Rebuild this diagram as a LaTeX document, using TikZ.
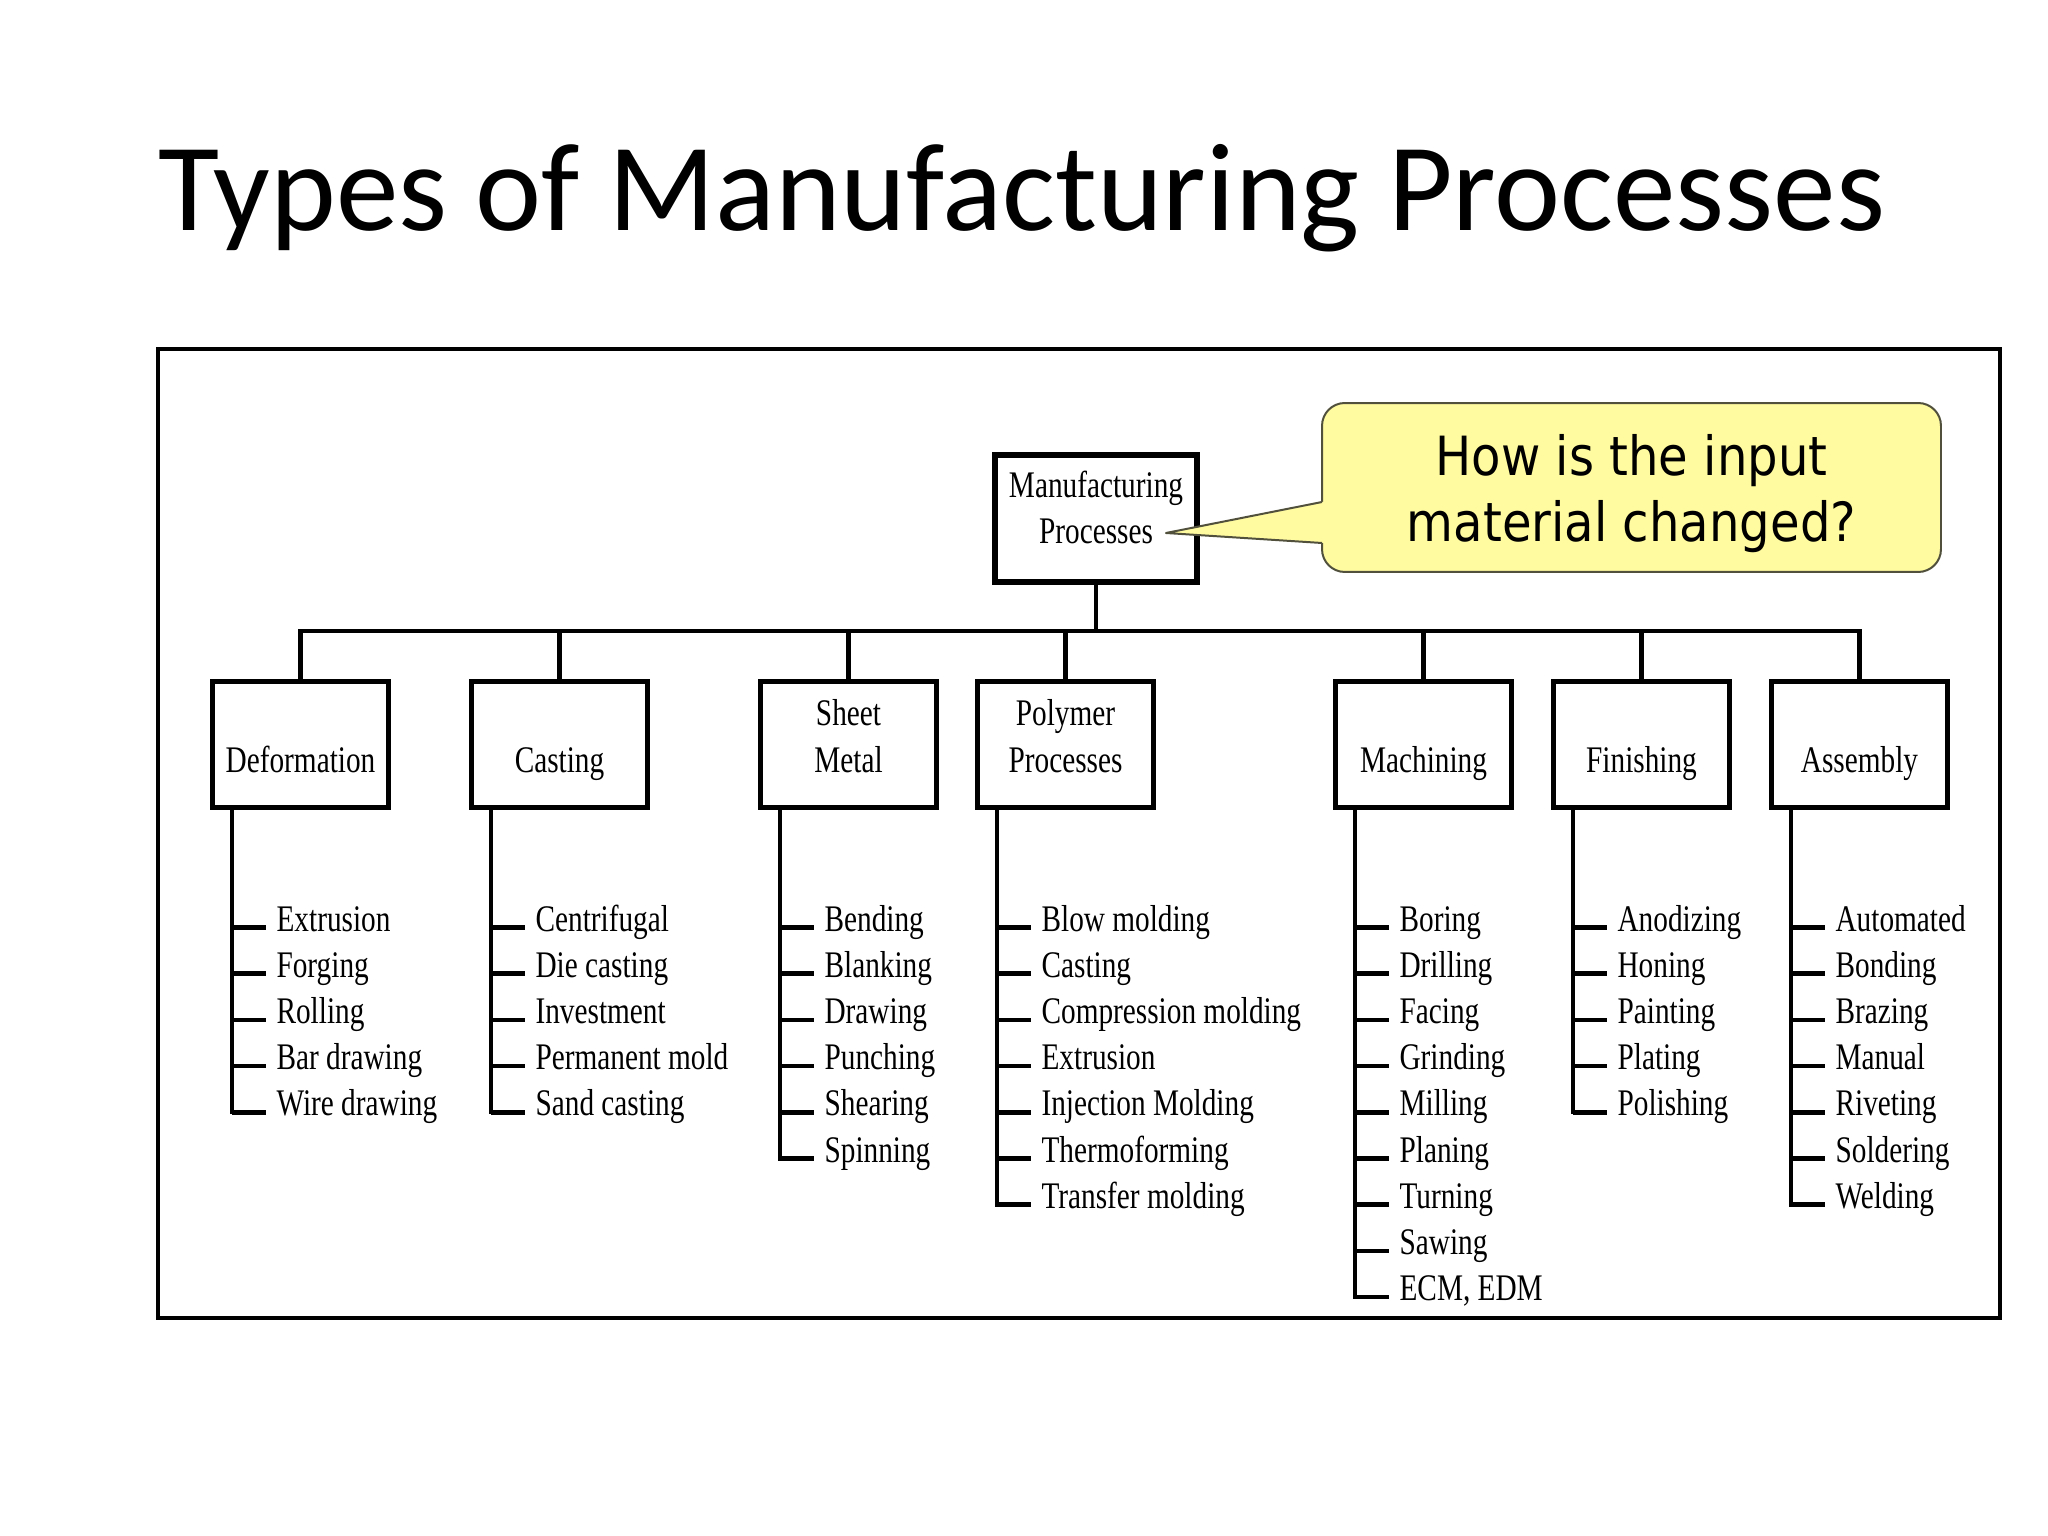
\documentclass[tikz,border=0pt]{standalone}
\usepackage{fontspec}
\usetikzlibrary{calc}
\newfontfamily\cond{Liberation Serif}[FakeStretch=0.78]
\newfontfamily\titlefont{Carlito}
\newfontfamily\callfont{DejaVu Sans}[FakeStretch=0.89]
\definecolor{callyellow}{RGB}{255,251,160}
\definecolor{callborder}{RGB}{80,80,60}
\tikzset{
  conn/.style={line width=1.45pt},
  tickline/.style={line width=1.6pt},
  catbox/.style={draw=black, line width=1.8pt, fill=white, minimum width=61.9pt, minimum height=44.3pt, inner sep=0pt},
  mainbox/.style={draw=black, line width=2.1pt, fill=white, minimum width=71pt, minimum height=44.65pt, inner sep=0pt},
  itemtext/.style={anchor=base west, inner sep=0pt, font=\cond\fontsize{13.2}{16.3}\selectfont},
  cattext/.style={anchor=base, inner sep=0pt, align=center, font=\cond\fontsize{13.2}{16.4}\selectfont},
}
\newcommand\proclist[4]{%
  \foreach \t [count=\i from 0] in {#4} {
    \node[itemtext] (#1-\i) at (#2+44, 931+46.2*\i) {\t};
    \draw[tickline] (#2, 927.5+46.2*\i) -- ($(#1-\i.base west)+(-10,-3.5)$);
  }
  \draw[conn] (#2,810) |- ($(#1-#3.base west)+(-10,-3.5)$);
}
\begin{document}
\begin{tikzpicture}[x=0.3515625pt, y=-0.3515625pt]
\useasboundingbox (0,0) rectangle (2048,1536);
\fill[white] (0,0) rectangle (2048,1536);

% title
\node[anchor=base west, inner sep=0pt, font=\titlefont\fontsize{44}{53}\selectfont] (title) at (158,231) {Types of Manufacturing Processes};

% outer frame
\draw[line width=1.6pt] (158,349) rectangle (2000,1318);

% main box and category boxes
\coordinate (busL) at (300.5,631);
\node[mainbox] (mp) at (1096,518.5) {};
\node[cattext] (mp-t) at (1096,544) {Manufacturing\\Processes};

\node[catbox] (def) at (300.5,744.5) {};
\node[catbox] (cas) at (559.5,744.5) {};
\node[catbox] (she) at (848.5,744.5) {};
\node[catbox] (pol) at (1065.5,744.5) {};
\node[catbox] (mac) at (1423.5,744.5) {};
\node[catbox] (fin) at (1641.5,744.5) {};
\node[catbox] (ass) at (1859.5,744.5) {};

\draw[conn] (def.north) -- (def.north |- busL) -- (ass.north |- busL) -- (ass.north);
\foreach \n in {cas,she,pol,mac,fin} {\draw[conn] (\n.north) -- (\n.north |- busL);}
\draw[conn] (mp.south) -- (mp.south |- busL);

\node[cattext] (def-t) at (300.5,772) {Deformation};
\node[cattext] (cas-t) at (559.5,772) {Casting};
\node[cattext] (she-t) at (848.5,772) {Sheet\\Metal};
\node[cattext] (pol-t) at (1065.5,772) {Polymer\\Processes};
\node[cattext] (mac-t) at (1423.5,772) {Machining};
\node[cattext] (fin-t) at (1641.5,772) {Finishing};
\node[cattext] (ass-t) at (1859.5,772) {Assembly};

\proclist{def}{232}{4}{Extrusion, Forging, Rolling, Bar drawing, Wire drawing}
\proclist{cas}{491}{4}{Centrifugal, Die casting, Investment, Permanent mold, Sand casting}
\proclist{she}{780}{5}{Bending, Blanking, Drawing, Punching, Shearing, Spinning}
\proclist{pol}{997}{6}{Blow molding, Casting, Compression molding, Extrusion, Injection Molding, Thermoforming, Transfer molding}
\proclist{mac}{1355}{8}{Boring, Drilling, Facing, Grinding, Milling, Planing, Turning, Sawing, {ECM, EDM}}
\proclist{fin}{1573}{4}{Anodizing, Honing, Painting, Plating, Polishing}
\proclist{ass}{1791}{6}{Automated, Bonding, Brazing, Manual, Riveting, Soldering, Welding}

% callout
\node[draw=callborder, line width=0.7pt, fill=callyellow, rounded corners=8pt, minimum width=217.6pt, minimum height=59.4pt, inner sep=0pt] (callout) at (1631.5,487.5) {};
\coordinate (tip) at (1166,533);
\fill[callyellow] (1322,502) -- (tip) -- (1322,543) -- (1326,543) -- (1326,502) -- cycle;
\draw[callborder, line width=0.7pt, line join=round] (1322,502) -- (tip) -- (1322,543);
\node[anchor=base, inner sep=0pt, align=center, font=\callfont\fontsize{19}{23.55}\selectfont] (callout-t) at (1631.5,542) {How is the input\\material changed?};
\end{tikzpicture}
\end{document}
